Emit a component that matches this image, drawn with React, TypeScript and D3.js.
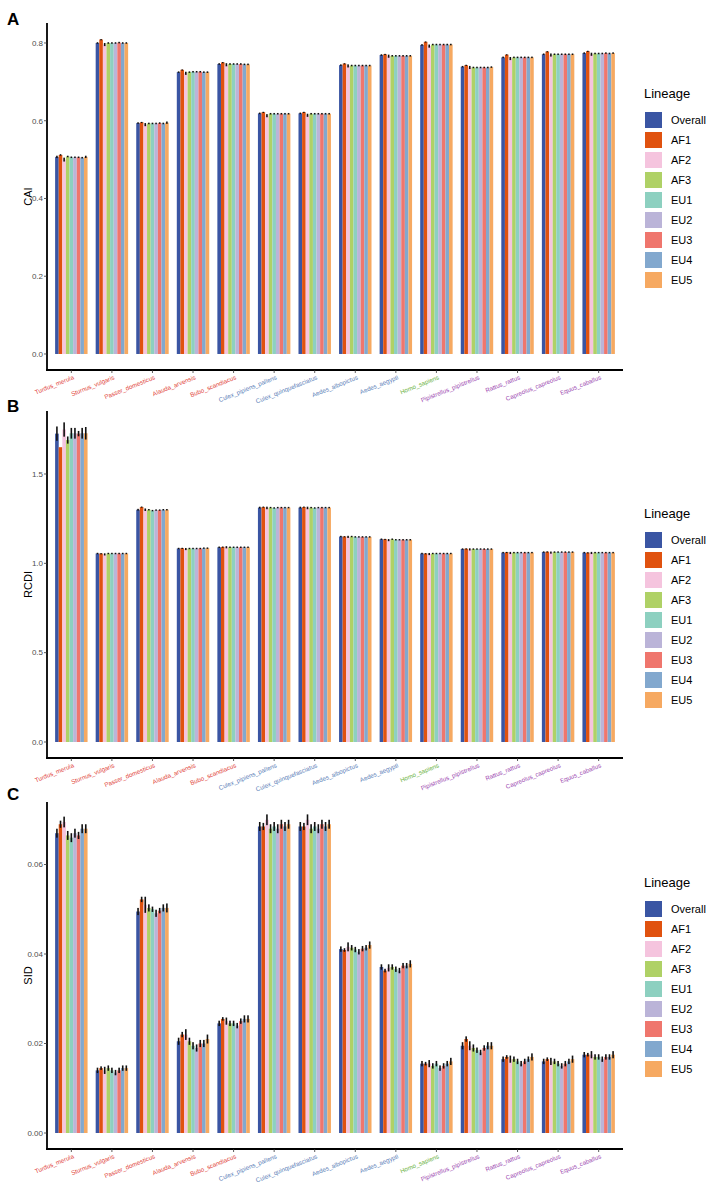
import React from "react";
import * as d3 from "d3";

const species = [
  "Turdus_merula", "Sturnus_vulgaris", "Passer_domesticus", "Alauda_arvensis", "Bubo_scandiacus",
  "Culex_pipiens_pallens", "Culex_quinquefasciatus", "Aedes_albopictus", "Aedes_aegypti", "Homo_sapiens",
  "Pipistrellus_pipistrellus", "Rattus_rattus", "Capreolus_capreolus", "Equus_caballus",
];
const speciesClass = [
  "bird", "bird", "bird", "bird", "bird",
  "mosquito", "mosquito", "mosquito", "mosquito", "human",
  "mammal", "mammal", "mammal", "mammal",
];
const lineages = ["Overall", "AF1", "AF2", "AF3", "EU1", "EU2", "EU3", "EU4", "EU5"];

const caiTicks = [0, 0.2, 0.4, 0.6, 0.8];
const rcdiTicks = [0, 0.5, 1.0, 1.5];
const sidTicks = [0, 0.02, 0.04, 0.06];

const caiValues = [
  [0.507, 0.512, 0.500, 0.508, 0.506, 0.506, 0.506, 0.505, 0.507],
  [0.800, 0.809, 0.796, 0.800, 0.800, 0.800, 0.801, 0.800, 0.800],
  [0.594, 0.596, 0.590, 0.593, 0.593, 0.593, 0.594, 0.593, 0.595],
  [0.725, 0.731, 0.722, 0.725, 0.726, 0.726, 0.726, 0.725, 0.725],
  [0.746, 0.750, 0.744, 0.746, 0.746, 0.746, 0.746, 0.745, 0.745],
  [0.619, 0.622, 0.613, 0.618, 0.618, 0.618, 0.618, 0.618, 0.618],
  [0.619, 0.622, 0.614, 0.618, 0.618, 0.618, 0.618, 0.618, 0.618],
  [0.743, 0.747, 0.741, 0.742, 0.742, 0.742, 0.742, 0.742, 0.742],
  [0.769, 0.771, 0.766, 0.767, 0.767, 0.767, 0.767, 0.767, 0.767],
  [0.795, 0.803, 0.792, 0.796, 0.796, 0.796, 0.796, 0.796, 0.796],
  [0.739, 0.743, 0.737, 0.737, 0.737, 0.737, 0.737, 0.737, 0.738],
  [0.763, 0.770, 0.760, 0.763, 0.763, 0.763, 0.763, 0.763, 0.763],
  [0.771, 0.778, 0.769, 0.771, 0.771, 0.771, 0.771, 0.771, 0.771],
  [0.774, 0.779, 0.771, 0.773, 0.773, 0.773, 0.774, 0.773, 0.774],
];
const caiErrors = [
  [0.003, 0.002, 0.005, 0.002, 0.002, 0.002, 0.002, 0.002, 0.003],
  [0.002, 0.001, 0.004, 0.002, 0.002, 0.002, 0.002, 0.002, 0.002],
  [0.002, 0.001, 0.004, 0.002, 0.002, 0.002, 0.002, 0.002, 0.003],
  [0.002, 0.001, 0.004, 0.002, 0.002, 0.002, 0.002, 0.002, 0.002],
  [0.002, 0.001, 0.004, 0.002, 0.002, 0.002, 0.002, 0.002, 0.002],
  [0.002, 0.001, 0.004, 0.002, 0.002, 0.002, 0.002, 0.002, 0.002],
  [0.002, 0.001, 0.004, 0.002, 0.002, 0.002, 0.002, 0.002, 0.002],
  [0.002, 0.001, 0.004, 0.002, 0.002, 0.002, 0.002, 0.002, 0.002],
  [0.002, 0.001, 0.004, 0.002, 0.002, 0.002, 0.002, 0.002, 0.002],
  [0.002, 0.001, 0.004, 0.002, 0.002, 0.002, 0.002, 0.002, 0.002],
  [0.002, 0.001, 0.004, 0.002, 0.002, 0.002, 0.002, 0.002, 0.002],
  [0.002, 0.001, 0.004, 0.002, 0.002, 0.002, 0.002, 0.002, 0.002],
  [0.002, 0.001, 0.004, 0.002, 0.002, 0.002, 0.002, 0.002, 0.002],
  [0.002, 0.001, 0.004, 0.002, 0.002, 0.002, 0.002, 0.002, 0.002],
];

const rcdiValues = [
  [1.726, 1.650, 1.749, 1.690, 1.728, 1.728, 1.726, 1.728, 1.728],
  [1.055, 1.055, 1.050, 1.055, 1.055, 1.055, 1.055, 1.055, 1.055],
  [1.300, 1.315, 1.300, 1.300, 1.295, 1.298, 1.298, 1.300, 1.300],
  [1.083, 1.085, 1.080, 1.083, 1.083, 1.083, 1.083, 1.085, 1.085],
  [1.090, 1.092, 1.090, 1.090, 1.090, 1.090, 1.090, 1.090, 1.090],
  [1.312, 1.315, 1.310, 1.312, 1.310, 1.312, 1.312, 1.312, 1.312],
  [1.312, 1.315, 1.310, 1.312, 1.310, 1.312, 1.312, 1.312, 1.312],
  [1.150, 1.150, 1.148, 1.150, 1.148, 1.148, 1.148, 1.148, 1.148],
  [1.135, 1.135, 1.130, 1.135, 1.132, 1.132, 1.132, 1.132, 1.132],
  [1.055, 1.055, 1.052, 1.055, 1.055, 1.055, 1.055, 1.055, 1.055],
  [1.080, 1.082, 1.078, 1.080, 1.080, 1.080, 1.080, 1.080, 1.080],
  [1.060, 1.062, 1.058, 1.060, 1.060, 1.060, 1.060, 1.060, 1.060],
  [1.063, 1.065, 1.060, 1.063, 1.063, 1.063, 1.063, 1.063, 1.063],
  [1.060, 1.060, 1.058, 1.060, 1.060, 1.060, 1.060, 1.060, 1.060],
];
const rcdiErrors = [
  [0.040, 0.000, 0.040, 0.020, 0.030, 0.030, 0.015, 0.030, 0.035],
  [0.004, 0.002, 0.006, 0.004, 0.004, 0.004, 0.004, 0.004, 0.004],
  [0.005, 0.003, 0.007, 0.004, 0.004, 0.004, 0.004, 0.004, 0.004],
  [0.004, 0.002, 0.006, 0.004, 0.004, 0.004, 0.004, 0.004, 0.004],
  [0.004, 0.002, 0.006, 0.004, 0.004, 0.004, 0.004, 0.004, 0.004],
  [0.005, 0.003, 0.007, 0.004, 0.004, 0.004, 0.004, 0.004, 0.004],
  [0.005, 0.003, 0.007, 0.004, 0.004, 0.004, 0.004, 0.004, 0.004],
  [0.004, 0.002, 0.006, 0.004, 0.004, 0.004, 0.004, 0.004, 0.004],
  [0.004, 0.002, 0.006, 0.004, 0.004, 0.004, 0.004, 0.004, 0.004],
  [0.004, 0.002, 0.006, 0.004, 0.004, 0.004, 0.004, 0.004, 0.004],
  [0.004, 0.002, 0.006, 0.004, 0.004, 0.004, 0.004, 0.004, 0.004],
  [0.004, 0.002, 0.006, 0.004, 0.004, 0.004, 0.004, 0.004, 0.004],
  [0.004, 0.002, 0.006, 0.004, 0.004, 0.004, 0.004, 0.004, 0.004],
  [0.004, 0.002, 0.006, 0.004, 0.004, 0.004, 0.004, 0.004, 0.004],
];

const sidValues = [
  [0.0670, 0.0690, 0.0695, 0.0665, 0.0660, 0.0670, 0.0665, 0.0680, 0.0680],
  [0.0140, 0.0145, 0.0140, 0.0145, 0.0140, 0.0135, 0.0140, 0.0145, 0.0145],
  [0.0495, 0.0522, 0.0510, 0.0503, 0.0500, 0.0491, 0.0497, 0.0503, 0.0503],
  [0.0205, 0.0220, 0.0220, 0.0205, 0.0195, 0.0190, 0.0200, 0.0200, 0.0210],
  [0.0245, 0.0255, 0.0250, 0.0245, 0.0245, 0.0240, 0.0250, 0.0255, 0.0255],
  [0.0685, 0.0685, 0.0700, 0.0680, 0.0685, 0.0680, 0.0690, 0.0685, 0.0690],
  [0.0685, 0.0685, 0.0700, 0.0680, 0.0685, 0.0680, 0.0690, 0.0685, 0.0690],
  [0.0411, 0.0409, 0.0416, 0.0414, 0.0410, 0.0405, 0.0412, 0.0414, 0.0420],
  [0.0371, 0.0363, 0.0369, 0.0371, 0.0366, 0.0363, 0.0374, 0.0374, 0.0378],
  [0.0155, 0.0155, 0.0155, 0.0150, 0.0155, 0.0145, 0.0150, 0.0155, 0.0160],
  [0.0195, 0.0210, 0.0195, 0.0190, 0.0185, 0.0180, 0.0190, 0.0195, 0.0195],
  [0.0165, 0.0170, 0.0165, 0.0165, 0.0160, 0.0155, 0.0160, 0.0165, 0.0170],
  [0.0160, 0.0165, 0.0160, 0.0160, 0.0155, 0.0150, 0.0155, 0.0160, 0.0165],
  [0.0175, 0.0175, 0.0175, 0.0170, 0.0170, 0.0165, 0.0170, 0.0170, 0.0175],
];
const sidErrors = [
  [0.0010, 0.0008, 0.0012, 0.0010, 0.0010, 0.0010, 0.0008, 0.0010, 0.0010],
  [0.0006, 0.0004, 0.0008, 0.0006, 0.0006, 0.0006, 0.0006, 0.0006, 0.0006],
  [0.0008, 0.0006, 0.0018, 0.0008, 0.0006, 0.0008, 0.0006, 0.0008, 0.0010],
  [0.0008, 0.0006, 0.0012, 0.0008, 0.0008, 0.0008, 0.0008, 0.0008, 0.0010],
  [0.0006, 0.0004, 0.0008, 0.0006, 0.0006, 0.0006, 0.0006, 0.0008, 0.0008],
  [0.0010, 0.0008, 0.0012, 0.0010, 0.0010, 0.0010, 0.0010, 0.0010, 0.0010],
  [0.0010, 0.0008, 0.0012, 0.0010, 0.0010, 0.0010, 0.0010, 0.0010, 0.0010],
  [0.0006, 0.0004, 0.0010, 0.0006, 0.0006, 0.0006, 0.0006, 0.0006, 0.0008],
  [0.0006, 0.0004, 0.0008, 0.0006, 0.0006, 0.0006, 0.0006, 0.0006, 0.0008],
  [0.0006, 0.0004, 0.0008, 0.0006, 0.0006, 0.0006, 0.0006, 0.0006, 0.0008],
  [0.0008, 0.0006, 0.0010, 0.0008, 0.0006, 0.0006, 0.0006, 0.0008, 0.0008],
  [0.0006, 0.0004, 0.0008, 0.0006, 0.0006, 0.0006, 0.0006, 0.0006, 0.0008],
  [0.0006, 0.0004, 0.0008, 0.0006, 0.0006, 0.0006, 0.0006, 0.0006, 0.0008],
  [0.0006, 0.0004, 0.0008, 0.0006, 0.0006, 0.0006, 0.0006, 0.0006, 0.0008],
];

// ---- styling / layout ----
const lineageColors = ["#3A55A3", "#E0520F", "#F5C4DE", "#AFD166", "#8DD0C0", "#BBB4D8", "#EF766D", "#82A8CE", "#F6A961"];
const classColors: Record<string, string> = {
  bird: "#E1443A",
  mosquito: "#5B80B8",
  human: "#6DB33F",
  mammal: "#9C48B0",
};

const X0 = 47;
const X1 = 623;

const panels = [
  { letter: "A", title: "CAI", values: caiValues, errors: caiErrors, ticks: caiTicks, fmt: ".1f", top: 23, bottom: 370, domain: [-0.0412, 0.8514], legendY: 93, letterY: 25 },
  { letter: "B", title: "RCDI", values: rcdiValues, errors: rcdiErrors, ticks: rcdiTicks, fmt: ".1f", top: 411, bottom: 758, domain: [-0.0896, 1.8526], legendY: 513, letterY: 412 },
  { letter: "C", title: "SID", values: sidValues, errors: sidErrors, ticks: sidTicks, fmt: ".2f", top: 802, bottom: 1149, domain: [-0.003575, 0.07397], legendY: 882, letterY: 800 },
];

const FONT = "Liberation Sans, Arial, sans-serif";

function Panel({ p }: { p: (typeof panels)[number] }) {
  const x = d3.scaleBand<string>().domain(species).range([X0, X1]).paddingInner(0).paddingOuter(0.1);
  const step = x.step();
  const inner = d3.scaleBand<string>().domain(lineages).range([-0.4 * step, 0.4 * step]);
  const y = d3.scaleLinear().domain(p.domain).range([p.bottom, p.top]);
  const fmt = d3.format(p.fmt);
  const midY = (p.top + p.bottom) / 2;
  return (
    <g>
      <text x={7} y={p.letterY} fontFamily={FONT} fontWeight="bold" fontSize={17} fill="#000">{p.letter}</text>
      {species.map((s, i) => {
        const cx = (x(s) as number) + step / 2;
        return (
          <g key={s}>
            {lineages.map((l, j) => {
              const v = p.values[i][j];
              const e = p.errors[i][j];
              const bx = cx + (inner(l) as number);
              const bw = inner.bandwidth();
              return (
                <g key={l}>
                  <rect x={bx} y={y(v)} width={bw} height={y(0) - y(v)} fill={lineageColors[j]} />
                  {e > 0 && (
                    <rect x={bx + bw / 2 - 0.8} y={y(v + e)} width={1.6} height={Math.max(1.2, y(v - e) - y(v + e))} fill="#111" />
                  )}
                </g>
              );
            })}
          </g>
        );
      })}
      {/* axes */}
      <line x1={X0} x2={X0} y1={p.top} y2={p.bottom + 0.9} stroke="#000" strokeWidth={1.8} />
      <line x1={X0 - 0.9} x2={X1} y1={p.bottom} y2={p.bottom} stroke="#000" strokeWidth={1.8} />
      {p.ticks.map((t) => (
        <g key={t}>
          <line x1={X0 - 3} x2={X0} y1={y(t)} y2={y(t)} stroke="#333" strokeWidth={0.8} />
          <text x={X0 - 4} y={y(t)} dy="0.35em" textAnchor="end" fontFamily={FONT} fontSize={8} fill="#4D4D4D">{fmt(t)}</text>
        </g>
      ))}
      {species.map((s, i) => {
        const cx = (x(s) as number) + step / 2;
        return (
          <g key={s}>
            <line x1={cx} x2={cx} y1={p.bottom} y2={p.bottom + 3} stroke="#333" strokeWidth={0.8} />
            <text
              transform={`translate(${cx + 3},${p.bottom + 9}) rotate(-22)`}
              textAnchor="end"
              fontFamily={FONT}
              fontSize={6.2}
              fill={classColors[speciesClass[i]]}
            >
              {s}
            </text>
          </g>
        );
      })}
      <text transform={`translate(32,${midY}) rotate(-90)`} textAnchor="middle" fontFamily={FONT} fontSize={11} fill="#000">{p.title}</text>
      {/* legend */}
      <text x={644} y={p.legendY + 5} fontFamily={FONT} fontSize={13} fill="#000">Lineage</text>
      {lineages.map((l, j) => {
        const cy = p.legendY + 27 + j * 20;
        return (
          <g key={l}>
            <rect x={645} y={cy - 8} width={17} height={16} fill={lineageColors[j]} />
            <text x={671} y={cy} dy="0.35em" fontFamily={FONT} fontSize={11} fill="#000">{l}</text>
          </g>
        );
      })}
    </g>
  );
}

export default function App() {
  return (
    <svg width={710} height={1185} viewBox="0 0 710 1185" style={{ display: "block", position: "absolute", left: 0, top: 0, background: "#fff" }}>
      <rect x={0} y={0} width={710} height={1185} fill="#fff" />
      {panels.map((p) => (
        <Panel key={p.letter} p={p} />
      ))}
    </svg>
  );
}
